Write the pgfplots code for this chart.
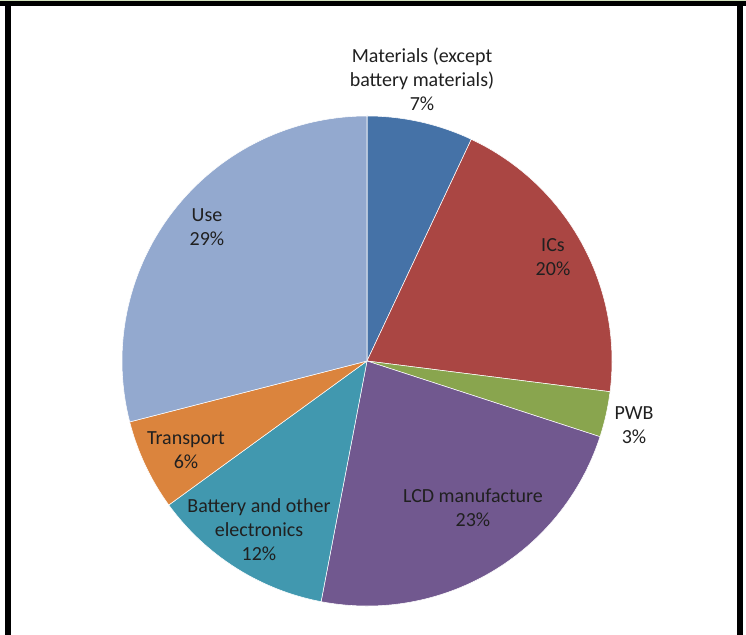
\documentclass[border=0pt]{standalone}
\usepackage{pgfplots}
\usepackage{pgfplotstable}
\pgfplotsset{compat=1.18}
\usepackage{fontspec}
\setmainfont{Carlito}

\definecolor{c1}{HTML}{4572A7}
\definecolor{c2}{HTML}{AA4643}
\definecolor{c3}{HTML}{89A54E}
\definecolor{c4}{HTML}{71588F}
\definecolor{c5}{HTML}{4198AF}
\definecolor{c6}{HTML}{DB843D}
\definecolor{c7}{HTML}{93A9CF}
\definecolor{topline}{HTML}{D2E2BC}
\definecolor{labeltext}{HTML}{202020}

\tikzset{lbl/.style={font=\fontsize{15}{18}\selectfont, text=labeltext,
  align=center, inner sep=0pt}}

% share of each slice, clockwise from 12 o'clock
\pgfplotstableread[col sep=comma]{
name,value,color
Materials,7,c1
ICs,20,c2
PWB,3,c3
LCD,23,c4
Battery,12,c5
Transport,6,c6
Use,29,c7
}\piedata

\begin{document}
\begin{tikzpicture}
\begin{axis}[
    hide axis,
    scale only axis,
    width=559.5pt, height=476.25pt,
    xmin=0, xmax=746, ymin=0, ymax=635,
    clip=false,
  ]
  % pie: centre (367,274) in axis units, radius 245 units = 183.75pt
  \def\cum{0}
  \pgfplotsforeachungrouped \i in {0,...,6} {
    \pgfplotstablegetelem{\i}{value}\of\piedata
    \pgfmathsetmacro\startA{90-3.6*\cum}
    \pgfmathsetmacro\cum{\cum+\pgfplotsretval}
    \pgfmathsetmacro\endA{90-3.6*\cum}
    \pgfplotstablegetelem{\i}{color}\of\piedata
    \edef\cmd{\noexpand\fill[\pgfplotsretval, draw=white, line width=0.4pt]
      (axis cs:367,274) -- ++(\startA:183.75pt)
      arc[start angle=\startA, end angle=\endA, radius=183.75pt] -- cycle;}
    \cmd
  }

  % frame
  \addplot[fill=topline, draw=none] coordinates {(0,634) (746,634) (746,635) (0,635)} -- cycle;
  \addplot[fill=black, draw=none] coordinates {(0,628.5) (746,628.5) (746,634) (0,634)} -- cycle;
  \addplot[fill=black, draw=none] coordinates {(5,0) (11,0) (11,634) (5,634)} -- cycle;
  \addplot[fill=black, draw=none] coordinates {(737,0) (743,0) (743,634) (737,634)} -- cycle;

  % data labels
  \node[lbl] at (axis cs:422,556) {Materials (except\\battery materials)\\7\%};
  \node[lbl] at (axis cs:553,377.5) {ICs\\20\%};
  \node[lbl] at (axis cs:634,209.5) {PWB\\3\%};
  \node[lbl] at (axis cs:473,127.5) {LCD manufacture\\23\%};
  \node[lbl] at (axis cs:259,105) {Battery and other\\electronics\\12\%};
  \node[lbl] at (axis cs:186,185) {Transport\\6\%};
  \node[lbl] at (axis cs:207,407.5) {Use\\29\%};
\end{axis}
\end{tikzpicture}
\end{document}
